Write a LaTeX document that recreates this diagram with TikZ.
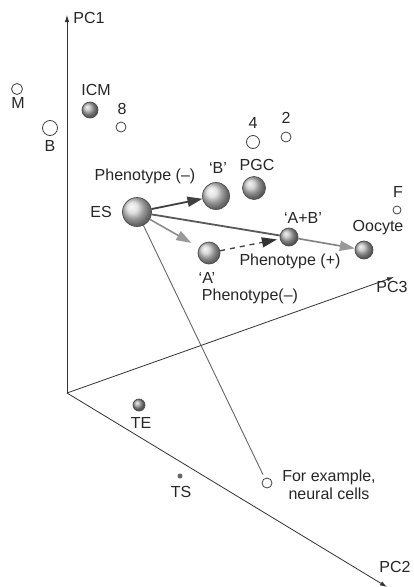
\documentclass[tikz,border=0pt]{standalone}
\usepackage{fontspec}
\setmainfont{Liberation Sans}
\usetikzlibrary{arrows.meta,shadings}
\begin{document}
\begin{tikzpicture}[x=1pt,y=-1pt,
  lbl/.style={font=\fontsize{16}{18.5}\selectfont, text=black!85, inner sep=0pt},
  ballnode/.style={circle, minimum size=#1, inner sep=0pt, draw=black!70, line width=0.7pt, shading=ball, ball color=gray!45},
  darkball/.style={circle, minimum size=#1, inner sep=0pt, draw=black!70, line width=0.7pt, shading=ball, ball color=gray!70!black},
  opencirc/.style={circle, minimum size=#1, inner sep=0pt, draw=black!75, line width=0.8pt, fill=white},
  axis/.style={draw=black!80, line width=0.8pt},
  axtip/.style={-{Latex[length=7pt,width=4.5pt]}},
  bigtip/.style={-{Triangle[length=15pt,width=10pt]}}
]
\useasboundingbox (0,0) rectangle (414,587);
\fill[white] (0,0) rectangle (414,587);

% axes
\coordinate (O) at (67,393);
\coordinate (pc1end) at (67,15);
\coordinate (pc3end) at (394,277);
\coordinate (pc2end) at (387,587);
\draw[axis,axtip] (O) -- (pc1end);
\draw[axis,axtip] (O) -- (pc3end);
\draw[axis,axtip] (O) -- (pc2end);
\node[lbl] (lpc1) at (89,18) {PC1};
\node[lbl] (lpc3) at (392,287) {PC3};
\node[lbl] (lpc2) at (395,567) {PC2};

% nodes
\node[opencirc=11pt] (M) at (17,89) {};
\node[lbl] (lM) at (18,103) {M};
\node[opencirc=15pt] (Bl) at (50,128) {};
\node[lbl] (lBl) at (50,146) {B};
\node[darkball=16pt, ball color=gray!60] (ICM) at (90,110) {};
\node[lbl] (lICM) at (96,90) {ICM};
\node[opencirc=10pt] (e8) at (121,127) {};
\node[lbl] (l8) at (122,109) {8};
\node[opencirc=13pt] (f4) at (253,142) {};
\node[lbl] (l4) at (253,123) {4};
\node[opencirc=10pt] (t2) at (286,137) {};
\node[lbl] (l2) at (286,118) {2};
\node[opencirc=8pt] (F) at (397,210) {};
\node[lbl] (lF) at (398,192) {F};

\node[ballnode=29pt, ball color=gray!30] (ES) at (137,212) {};
\node[lbl] (lES) at (101,212) {ES};
\node[ballnode=27pt, ball color=gray!30] (Bq) at (216,196) {};
\node[lbl] (lBq) at (218,168) {`B'};
\node[ballnode=23pt] (PGC) at (254,188) {};
\node[lbl] (lPGC) at (257,165) {PGC};
\node[lbl] (lphm1) at (145,176) {Phenotype (--)};
\node[ballnode=18pt, ball color=gray!60] (AB) at (289,237) {};
\node[lbl] (lAB) at (303,218) {`A+B'};
\node[ballnode=22pt, ball color=gray!40] (Aq) at (209,253) {};
\node[lbl] (lAq) at (207,278) {`A'};
\node[lbl] (lphm2) at (250,296) {Phenotype(--)};
\node[ballnode=18pt, ball color=gray!55] (Oo) at (364,250) {};
\node[lbl] (lOo) at (378,228) {Oocyte};
\node[lbl] (lphp) at (290,261) {Phenotype (+)};

\node[darkball=12pt, ball color=gray!75] (TE) at (139,405) {};
\node[lbl] (lTE) at (141,423) {TE};
\node[circle, fill=black!60, minimum size=5pt, inner sep=0pt] (TS) at (180,476) {};
\node[lbl] (lTS) at (181,492) {TS};
\node[opencirc=10pt] (neu) at (267,483) {};
\node[lbl, align=center] (lneu) at (329,485) {For example,\\neural cells};

% connectors
\draw[draw=black!60, line width=0.9pt, shorten >=4pt] (ES) -- (neu);
\draw[draw=black!65, line width=1.8pt] (ES) -- (AB);
\draw[draw=black!50, line width=1.6pt, -{Triangle[length=15pt,width=10pt,color=black!40]}] (AB) -- (Oo);
\draw[draw=black!75, line width=1.8pt, bigtip] (ES) -- (Bq);
\draw[draw=black!45, line width=1.6pt, -{Triangle[length=15pt,width=10pt,color=black!40]}, shorten >=9pt] (ES) -- (Aq);
\draw[draw=black!75, line width=1.3pt, dash pattern=on 5pt off 5pt, -{Triangle[length=15pt,width=10pt,color=black!80]}, shorten >=3pt] (Aq) -- (AB);
\end{tikzpicture}
\end{document}
